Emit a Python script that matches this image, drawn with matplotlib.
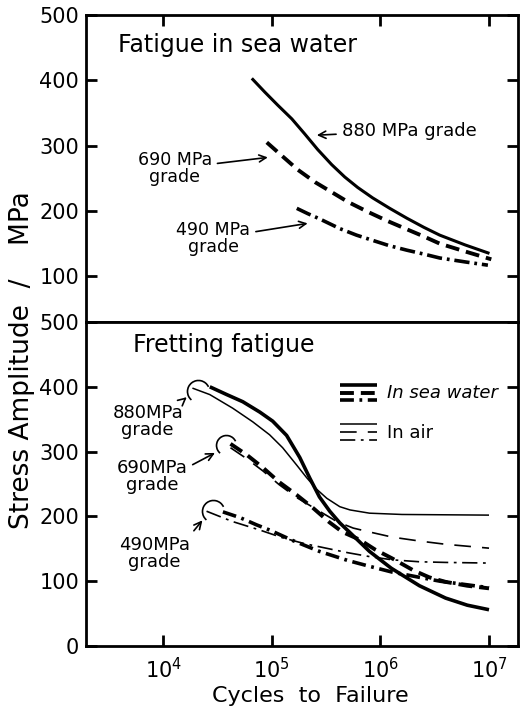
import matplotlib.pyplot as plt
from matplotlib.path import Path
from matplotlib.lines import Line2D
from matplotlib.legend_handler import HandlerBase

plt.rcParams['font.family'] = 'DejaVu Sans'
plt.rcParams['mathtext.default'] = 'regular'
plt.rcParams['lines.scale_dashes'] = False
plt.rcParams['lines.solid_joinstyle'] = 'round'

# Upper panel: fatigue in sea water (cycles, MPa)
sw_880_n = [6.55e4, 8.63e4, 1.135e5, 1.53e5, 2.01e5, 2.65e5, 3.56e5, 4.70e5,
            6.18e5, 8.49e5, 1.22e6, 1.75e6, 2.51e6, 3.52e6, 6.03e6, 1.01e7]
sw_880_s = [403, 382, 362, 341, 318, 294, 271, 252, 236, 220, 204, 189, 175, 163, 148, 135]
sw_690_n = [9.0e4, 1.23e5, 1.74e5, 2.51e5, 3.55e5, 5.01e5, 7.59e5, 1.15e6,
            1.75e6, 2.51e6, 3.52e6, 6.03e6, 1.05e7]
sw_690_s = [305, 285, 263, 244, 229, 214, 199, 185, 172, 161, 150, 138, 126]
sw_490_n = [1.70e5, 2.14e5, 2.75e5, 4.23e5, 6.03e5, 8.49e5, 1.20e6, 1.75e6,
            2.51e6, 3.52e6, 6.03e6, 9.77e6]
sw_490_s = [204, 196, 188, 173, 163, 155, 147, 140, 134, 128, 122, 117]

# Lower panel: fretting fatigue, in sea water (thick) and in air (thin)
fs_880_n = [2.69e4, 3.85e4, 5.41e4, 7.76e4, 1.02e5, 1.37e5, 1.81e5, 2.24e5, 2.75e5,
            3.42e5, 4.23e5, 5.25e5, 7.94e5, 1.26e6, 2.29e6, 3.98e6, 6.31e6, 1.0e7]
fs_880_s = [400, 388, 377, 361, 347, 325, 291, 259, 230, 208, 190, 175, 146, 120,
            93, 74, 63, 56]
fa_880_n = [1.86e4, 2.69e4, 4.37e4, 6.68e4, 9.55e4, 1.26e5, 1.70e5, 2.09e5, 2.59e5,
            3.21e5, 4.23e5, 5.25e5, 7.94e5, 1.58e6, 1.0e7]
fa_880_s = [398, 388, 367, 346, 326, 306, 279, 260, 242, 228, 215, 210, 205, 203, 202]
fs_690_n = [4.17e4, 5.89e4, 8.32e4, 1.17e5, 1.70e5, 2.40e5, 3.39e5, 4.47e5, 6.46e5,
            8.91e5, 1.29e6, 2.0e6, 2.82e6, 3.98e6, 6.31e6, 1.0e7]
fs_690_s = [312, 295, 275, 253, 233, 213, 191, 176, 164, 149, 135, 117, 106, 99, 93, 89]
fa_690_n = [4.17e4, 5.89e4, 8.32e4, 1.17e5, 1.70e5, 2.75e5, 3.98e5, 5.62e5, 7.94e5,
            1.29e6, 2.29e6, 3.98e6, 1.0e7]
fa_690_s = [306, 289, 270, 249, 229, 208, 192, 182, 176, 168, 162, 157, 151]
fs_490_n = [3.55e4, 5.13e4, 7.24e4, 9.55e4, 1.55e5, 2.75e5, 5.01e5, 7.94e5, 1.29e6,
            2.29e6, 3.55e6, 5.37e6, 1.0e7]
fs_490_s = [207, 198, 187, 179, 163, 146, 132, 123, 114, 106, 100, 96, 90]
fa_490_n = [2.51e4, 3.31e4, 4.37e4, 7.76e4, 1.26e5, 2.0e5, 3.16e5, 5.01e5, 7.94e5,
            1.29e6, 2.29e6, 3.98e6, 1.0e7]
fa_490_s = [208, 200, 192, 179, 167, 158, 151, 144, 138, 133, 130, 129, 128]

# start hooks of the fretting curves
hook_n = [2.08e4, 3.8e4, 2.86e4]
hook_s = [393, 310, 208]
hook_size = [16, 14.5, 16]

x_ticks = [1e4, 1e5, 1e6, 1e7]
x_ticklabels = ['$10^{4}$', '$10^{5}$', '$10^{6}$', '$10^{7}$']
top_yticks = [100, 200, 300, 400, 500]
bot_yticks = [0, 100, 200, 300, 400, 500]


class StackedLines(HandlerBase):
    # draws the tuple of lines one above the other
    def create_artists(self, legend, orig_handle, xdescent, ydescent,
                       width, height, fontsize, trans):
        arts = []
        n = len(orig_handle)
        for i, h in enumerate(orig_handle):
            y = height * (1 - (i + 0.5) / n) - ydescent
            ln = Line2D([-xdescent, width - xdescent], [y, y])
            ln.update_from(h)
            ln.set_transform(trans)
            arts.append(ln)
        return arts


fig = plt.figure(figsize=(5.2, 7.11), dpi=100)
ax1 = fig.add_axes([0.1654, 0.5471, 0.8308, 0.4318])
ax2 = fig.add_axes([0.1654, 0.0914, 0.8308, 0.4557])

for ax in (ax1, ax2):
    ax.set_xscale('log')
    ax.set_xlim(1.95e3, 1.85e7)
    ax.set_xticks(x_ticks)
    ax.minorticks_off()
    for sp in ax.spines.values():
        sp.set_linewidth(2)
    ax.tick_params(direction='in', length=8, width=2, labelsize=15, right=True)
    ax.tick_params(axis='y', pad=5)

# upper panel
ax1.set_ylim(30, 500)
ax1.set_yticks(top_yticks)
ax1.tick_params(axis='x', top=True, bottom=False, labelbottom=False)

ax1.plot(sw_880_n, sw_880_s, color='k', lw=2.2, solid_capstyle='butt')
ax1.plot(sw_690_n, sw_690_s, color='k', lw=2.8, dashes=(10, 5))
ax1.plot(sw_490_n, sw_490_s, color='k', lw=2.6, dashes=(11, 3.5, 2, 3.5))

ax1.text(0.074, 0.902, 'Fatigue in sea water', transform=ax1.transAxes,
         ha='left', va='center', fontsize=17)

arrow = dict(arrowstyle='->', lw=1.2, color='k', shrinkA=2, shrinkB=0)
ax1.annotate('880 MPa grade', xy=(2.6e5, 316), xytext=(4.4e5, 323),
             ha='left', va='center', fontsize=13, arrowprops=arrow)
ax1.annotate('690 MPa\ngrade', xy=(9.2e4, 282), xytext=(1.28e4, 265),
             ha='center', va='center', fontsize=12.5, linespacing=0.95,
             arrowprops=arrow)
ax1.annotate('490 MPa\ngrade', xy=(2.14e5, 181), xytext=(2.9e4, 158),
             ha='center', va='center', fontsize=12.5, linespacing=0.95,
             arrowprops=arrow)

# lower panel
ax2.set_ylim(0, 500)
ax2.set_yticks(bot_yticks)
ax2.set_xticklabels(x_ticklabels)
ax2.tick_params(axis='x', top=False, bottom=True, pad=8)

l1, = ax2.plot(fs_880_n, fs_880_s, color='k', lw=2.6, solid_capstyle='butt')
l2, = ax2.plot(fs_690_n, fs_690_s, color='k', lw=2.8, dashes=(10, 5))
l3, = ax2.plot(fs_490_n, fs_490_s, color='k', lw=2.6, dashes=(10, 4, 2, 4))
a1, = ax2.plot(fa_880_n, fa_880_s, color='k', lw=1.1, solid_capstyle='butt')
a2, = ax2.plot(fa_690_n, fa_690_s, color='k', lw=1.2, dashes=(12, 8))
a3, = ax2.plot(fa_490_n, fa_490_s, color='k', lw=1.2, dashes=(11, 4, 2, 4))

hook = Path.arc(25, 230)
for hn, hs, hz in zip(hook_n, hook_s, hook_size):
    ax2.plot([hn], [hs], marker=hook, markersize=hz, mfc='none', mec='k',
             mew=1.2, linestyle='none')

ax2.text(0.109, 0.929, 'Fretting fatigue', transform=ax2.transAxes,
         ha='left', va='center', fontsize=17)

ax2.annotate('880MPa\ngrade', xy=(1.65e4, 384), xytext=(7.2e3, 347),
             ha='center', va='center', fontsize=13, linespacing=0.95,
             arrowprops=dict(arrow, relpos=(0.92, 0.95)))
ax2.annotate('690MPa\ngrade', xy=(3.0e4, 298), xytext=(7.9e3, 262),
             ha='center', va='center', fontsize=13, linespacing=0.95,
             arrowprops=dict(arrow, relpos=(1.0, 0.75)))
ax2.annotate('490MPa\ngrade', xy=(2.3e4, 194), xytext=(8.3e3, 143),
             ha='center', va='center', fontsize=13, linespacing=0.95,
             arrowprops=dict(arrow, relpos=(1.0, 1.0)))

leg = ax2.legend([(l1, l2, l3), (a1, a2, a3)], ['In sea water', 'In air'],
                 handler_map={tuple: StackedLines()}, loc='upper left',
                 bbox_to_anchor=(0.588, 0.818), frameon=False, fontsize=13,
                 handlelength=2.05, handleheight=1.6, handletextpad=0.55,
                 labelspacing=0.9, borderpad=0, borderaxespad=0)
leg.get_texts()[0].set_style('italic')

ax2.set_xlabel('Cycles  to  Failure', fontsize=16, labelpad=3)
ax2.xaxis.label.set_x(0.52)

fig.text(0.042, 0.494, 'Stress Amplitude  /    MPa', rotation=90,
         ha='center', va='center', fontsize=19)

plt.savefig('out.png', dpi=100)
